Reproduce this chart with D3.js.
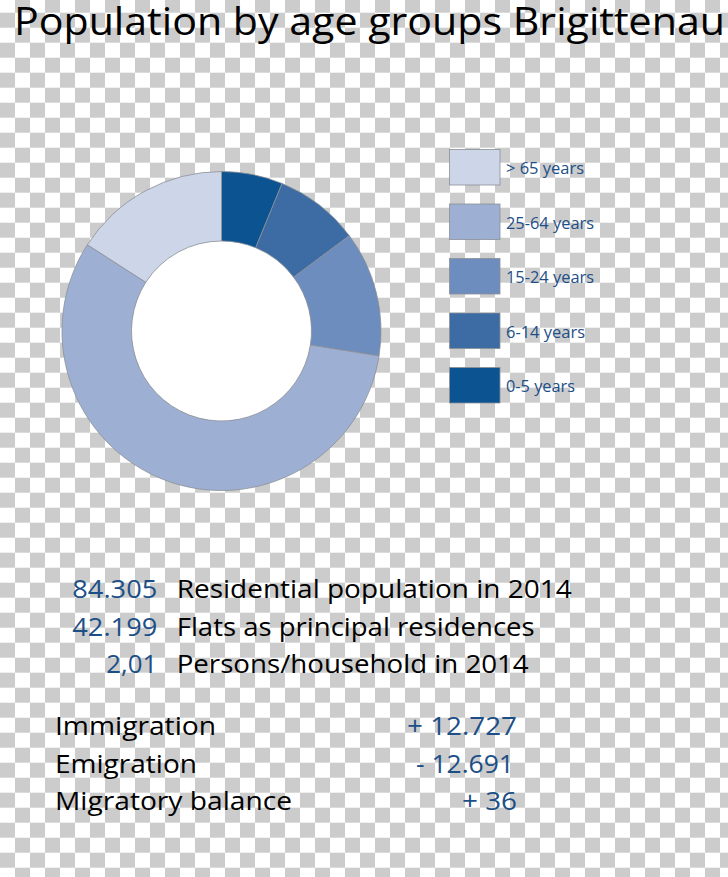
<!DOCTYPE html>
<html>
<head>
<meta charset="utf-8">
<script src="https://cdn.jsdelivr.net/npm/d3@7"></script>
<style>
  html, body { margin: 0; padding: 0; background: #fff; }
  svg { display: block; }
  text { font-family: "Open Sans", "Noto Sans", sans-serif; }
</style>
</head>
<body>
<svg id="chart" width="728" height="877"></svg>
<script>
// ---- data ----
const titleText = "Population by age groups Brigittenau";
const ageGroups = ["0-5 years", "6-14 years", "15-24 years", "25-64 years", "> 65 years"];
const agePercent = [6.2, 8.6, 12.7, 56.6, 15.9];
const ageColors = ["#0b5491", "#3d6ca5", "#6d8dbe", "#9db0d4", "#cdd6e9"];
const legendOrder = ["> 65 years", "25-64 years", "15-24 years", "6-14 years", "0-5 years"];
const keyValues = ["84.305", "42.199", "2,01"];
const keyLabels = ["Residential population in 2014", "Flats as principal residences", "Persons/household in 2014"];
const migrationLabels = ["Immigration", "Emigration", "Migratory balance"];
const migrationValues = ["+ 12.727", "- 12.691", "+ 36"];

// ---- layout ----
const W = 728, H = 877;
const blue = "#1d4f87";
const svg = d3.select("#chart");

// transparency checkerboard background
const defs = svg.append("defs");
const pat = defs.append("pattern").attr("id", "checker")
  .attr("patternUnits", "userSpaceOnUse")
  .attr("x", 0).attr("y", 12.7).attr("width", 30).attr("height", 30);
pat.append("rect").attr("width", 30).attr("height", 30).attr("fill", "#ffffff");
pat.append("rect").attr("x", 0).attr("y", 0).attr("width", 15).attr("height", 15).attr("fill", "#cccccc");
pat.append("rect").attr("x", 15).attr("y", 15).attr("width", 15).attr("height", 15).attr("fill", "#cccccc");
svg.append("rect").attr("width", W).attr("height", H).attr("fill", "url(#checker)");

function fitText(sel, w) {
  sel.attr("textLength", w).attr("lengthAdjust", "spacingAndGlyphs");
  return sel;
}

// title
fitText(svg.append("text").attr("x", 14).attr("y", 35)
  .attr("font-size", 39).attr("fill", "#000").text(titleText), 711);

// donut
const cx = 221.5, cy = 331, rOuter = 159.5, rInner = 90;
const data = ageGroups.map((g, i) => ({ group: g, value: agePercent[i], color: ageColors[i] }));
const pie = d3.pie().sort(null).value(d => d.value).startAngle(0).endAngle(2 * Math.PI);
const arc = d3.arc().innerRadius(rInner).outerRadius(rOuter);
const g = svg.append("g").attr("transform", `translate(${cx},${cy})`);
g.append("circle").attr("r", rInner).attr("fill", "#ffffff");
g.selectAll("path").data(pie(data)).join("path")
  .attr("d", arc)
  .attr("fill", d => d.data.color)
  .attr("stroke", "#8c8f96").attr("stroke-width", 0.8);

// legend
const colorOf = d3.scaleOrdinal().domain(ageGroups).range(ageColors);
const legY = d3.scalePoint().domain(legendOrder).range([149.5, 367.5]);
const widthsLegend = { "> 65 years": 78, "25-64 years": 88, "15-24 years": 88, "6-14 years": 79, "0-5 years": 69 };
const leg = svg.append("g");
legendOrder.forEach(name => {
  leg.append("rect").attr("x", 449.5).attr("y", legY(name))
    .attr("width", 50.5).attr("height", 35.5)
    .attr("fill", colorOf(name)).attr("stroke", "#8c8f96").attr("stroke-width", 0.8);
  fitText(leg.append("text").attr("x", 506).attr("y", legY(name) + 24.5)
    .attr("font-size", 16.5).attr("fill", blue).text(name), widthsLegend[name]);
});

// key figures
const keyY = d3.scalePoint().domain(keyLabels).range([598.3, 672.7]);
const keyValW = [85, 85, 51];
const keyLabW = [395, 358, 352];
keyLabels.forEach((lab, i) => {
  fitText(svg.append("text").attr("x", 157.3).attr("y", keyY(lab))
    .attr("text-anchor", "end").attr("font-size", 26).attr("fill", blue)
    .text(keyValues[i]), keyValW[i]);
  fitText(svg.append("text").attr("x", 176.7).attr("y", keyY(lab))
    .attr("font-size", 26).attr("fill", "#000").text(lab), keyLabW[i]);
});

// migration
const migY = d3.scalePoint().domain(migrationLabels).range([735, 810]);
const migLabW = [161, 142, 237];
const migValW = [110, 98, 55];
const migValRight = [517, 514, 517];
migrationLabels.forEach((lab, i) => {
  fitText(svg.append("text").attr("x", 55).attr("y", migY(lab))
    .attr("font-size", 26).attr("fill", "#000").text(lab), migLabW[i]);
  fitText(svg.append("text").attr("x", migValRight[i]).attr("y", migY(lab))
    .attr("text-anchor", "end").attr("font-size", 26).attr("fill", blue)
    .text(migrationValues[i]), migValW[i]);
});
</script>
</body>
</html>
